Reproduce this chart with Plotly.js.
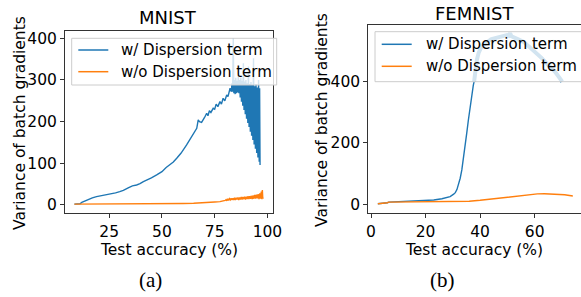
<!DOCTYPE html>
<html>
<head>
<meta charset="utf-8">
<script src="https://cdn.plot.ly/plotly-3.0.1.min.js"></script>
<style>html,body{margin:0;padding:0;background:#fff;}#chart{width:581px;height:297px;}</style>
</head>
<body>
<div id="chart"></div>
<script>
// ---- MNIST: w/ Dispersion term ----
const mnistDispX = [8.5, 10, 11.2, 12, 13.5, 15, 17, 19, 21, 23, 25.4, 28, 30, 31.7, 34, 36, 38, 39.6, 41.2, 43, 45, 47.5, 50, 52, 54, 55.4, 57, 59, 61.7, 63, 64.9, 66.5, 67.2, 67.8, 68.8, 69.5, 70.2, 71.2, 71.8, 72.5, 73.2, 74.3, 75, 75.7, 76.5, 77.5, 78.2, 79, 79.8, 80.7, 81.3, 82.3, 82.9,
  83.2, 83.5, 83.8, 84.1, 84.4, 84.7, 85.0, 85.3, 85.6, 85.9, 86.2, 86.5, 86.8, 87.1, 87.4, 87.7, 88.0, 88.3, 88.6, 88.9, 89.2, 89.5, 89.8, 90.1, 90.4, 90.7, 91.0, 91.3, 91.6, 91.9, 92.2, 92.5, 92.8, 93.1, 93.4, 93.7, 94.0, 94.3, 94.6, 94.9, 95.2, 95.5, 95.8, 96.1, 96.3, 96.5];
const mnistDispY = [2, 2.5, 3, 6, 9.6, 14, 17, 20, 22, 23, 25, 29, 32, 35, 41, 46, 48, 51, 56, 60, 65, 72, 80, 90, 98, 103, 112, 124, 144, 155, 172, 184, 204, 200, 198, 206, 210, 220, 214, 226, 222, 232, 230, 242, 236, 248, 242, 256, 250, 264, 260, 280, 272,
  292, 272, 400, 268, 300, 266, 305, 268, 298, 270, 310, 268, 300, 258, 305, 248, 298, 238, 340, 228, 296, 218, 300, 207, 292, 197, 332, 187, 290, 176, 295, 166, 288, 156, 352, 145, 285, 135, 290, 125, 282, 114, 300, 104, 280, 96];

// ---- MNIST: w/o Dispersion term ----
const mnistNoDispX = [8.5, 12, 20, 30, 40, 50, 60, 65, 68, 70, 72, 75, 77.5, 79,
  80.0, 80.4, 80.8, 81.2, 81.6, 82.0, 82.4, 82.8, 83.2, 83.6, 84.0, 84.4, 84.8, 85.2, 85.6, 86.0, 86.4, 86.8, 87.2, 87.6, 88.0, 88.4, 88.8, 89.2, 89.6, 90.0, 90.4, 90.8, 91.2, 91.6, 92.0, 92.4, 92.8, 93.2, 93.6, 94.0, 94.4, 94.8, 95.2, 95.6, 96.0, 96.4, 96.8, 97.1, 97.4, 97.6, 97.8, 98.0, 98.1];
const mnistNoDispY = [2, 2, 2, 2.2, 2.5, 3, 3.5, 4, 4.5, 5, 6, 7, 8, 9,
  11, 13, 10, 15, 11, 15, 12, 16, 12, 16, 12, 17, 12, 17, 13, 18, 12, 18, 13, 19, 13, 19, 14, 20, 13, 20, 14, 21, 14, 21, 15, 22, 14, 23, 15, 24, 15, 25, 16, 26, 14, 28, 15, 32, 14, 36, 16, 30, 18];

// ---- FEMNIST: w/ Dispersion term (rising part and noisy plateau) ----
const femDispX = [2.5, 5, 6, 6.5, 10, 13, 16, 20, 23, 26, 28, 29, 30.3, 30.9, 31.5, 32.1, 32.7, 33.3, 33.9, 34.5, 35.1, 35.7, 36.3, 37, 37.5, 37.8];
const femDispY = [2, 2.5, 5, 7, 8.5, 9.5, 10.5, 12, 14, 18, 22, 25, 33, 38, 48, 63, 85, 112, 148, 188, 232, 275, 318, 362, 388, 400];
const femDispPlateauX = [37.8, 38.3, 38.8, 39.5, 40.3, 41.3, 42.5, 44, 45.5, 47, 48.5, 49.9, 50.5, 51, 51.5, 52.5, 54, 56, 58, 59.5, 60.9, 62.5, 64, 65.8, 67.5, 69, 70.1];
const femDispPlateauY = [400, 440, 471, 495, 510, 520, 530, 538, 542, 546, 549, 552, 550, 558, 548, 545, 538, 530, 515, 503, 493, 478, 463, 449, 432, 414, 400];

// ---- FEMNIST: w/o Dispersion term ----
const femNoDispX = [2.5, 5, 6, 6.5, 10, 15, 20, 25, 30, 33, 36, 40, 44, 48, 51.3, 55, 58.7, 61, 63.6, 66, 68.5, 71, 74];
const femNoDispY = [2, 2.5, 5, 7, 7.5, 8, 8, 8, 8, 8.5, 10, 13, 17, 21, 25, 29, 33, 34, 34.5, 34, 33, 31, 27];

// ---- labels ----
const seriesNames = ["w/ Dispersion term", "w/o Dispersion term"];
const panelTitles = ["MNIST", "FEMNIST"];
const captions = ["(a)", "(b)"];
const xTitle = "Test accuracy (%)";
const yTitle = "Variance of batch gradients";
const mnistXTicks = [25, 50, 75, 100];
const mnistYTicks = [0, 100, 200, 300, 400];
const femXTicks = [0, 20, 40, 60];
const femYTicks = [0, 200, 400];

const BLUE = "#1f77b4", ORANGE = "#ff7f0e";
const seriesColors = [BLUE, ORANGE];
const FONT = "DejaVu Sans";
const W = 581, H = 297;
const px = v => v / W, py = v => 1 - v / H;

const traces = [
  {x: mnistDispX, y: mnistDispY, type: "scatter", mode: "lines", name: seriesNames[0],
   line: {color: BLUE, width: 1.4}, xaxis: "x", yaxis: "y"},
  {x: mnistNoDispX, y: mnistNoDispY, type: "scatter", mode: "lines", name: seriesNames[1],
   line: {color: ORANGE, width: 1.4}, xaxis: "x", yaxis: "y"},
  {x: femDispPlateauX, y: femDispPlateauY, type: "scatter", mode: "lines", name: seriesNames[0],
   line: {color: BLUE, width: 4}, xaxis: "x2", yaxis: "y2"},
  {x: femDispX, y: femDispY, type: "scatter", mode: "lines", name: seriesNames[0],
   line: {color: BLUE, width: 1.4}, xaxis: "x2", yaxis: "y2"},
  {x: femNoDispX, y: femNoDispY, type: "scatter", mode: "lines", name: seriesNames[1],
   line: {color: ORANGE, width: 1.4}, xaxis: "x2", yaxis: "y2"}
];

const axisCommon = {
  showgrid: false, zeroline: false, showline: true, mirror: true,
  linecolor: "#333", linewidth: 1, ticks: "outside", ticklen: 4, tickcolor: "#333",
  tickfont: {family: FONT, size: 15.5, color: "#000"}, tickmode: "array"
};

const ann = (text, x, y, size, extra) => Object.assign({
  text: text, xref: "paper", yref: "paper", x: px(x), y: py(y),
  xanchor: "center", yanchor: "middle", showarrow: false,
  font: {family: FONT, size: size, color: "#000"}
}, extra || {});

// matplotlib-style legend boxes (frame, line samples, labels)
function legendBox(x0, y0, x1, y1, lineX0, lineX1, textX, rowYs) {
  const shapes = [{type: "rect", xref: "paper", yref: "paper", layer: "above",
    x0: px(x0), x1: px(x1), y0: py(y1), y1: py(y0),
    fillcolor: "rgba(255,255,255,0.8)", line: {color: "#cccccc", width: 1}}];
  const anns = [];
  rowYs.forEach((ry, i) => {
    shapes.push({type: "line", xref: "paper", yref: "paper", layer: "above",
      x0: px(lineX0), x1: px(lineX1), y0: py(ry), y1: py(ry),
      line: {color: seriesColors[i], width: 1.5}});
    anns.push(ann(seriesNames[i], textX, ry, 15, {xanchor: "left"}));
  });
  return {shapes, anns};
}
const leg1 = legendBox(71.7, 38.3, 276.7, 85, 78.3, 108.3, 119, [50, 71.7]);
const leg2 = legendBox(375, 31.7, 600, 81.7, 381.7, 411.7, 424, [44.3, 66.3]);

const layout = {
  width: W, height: H, margin: {l: 0, r: 0, t: 0, b: 0},
  paper_bgcolor: "#fff", plot_bgcolor: "#fff", showlegend: false,
  xaxis: Object.assign({}, axisCommon, {domain: [px(65), px(272.7)], range: [4.05, 102.5], tickvals: mnistXTicks, anchor: "y"}),
  yaxis: Object.assign({}, axisCommon, {domain: [py(213.3), py(31)], range: [-20, 417.5], tickvals: mnistYTicks, anchor: "x"}),
  xaxis2: Object.assign({}, axisCommon, {domain: [px(368.3), 1], range: [-1.0, 77.0], tickvals: femXTicks, anchor: "y2"}),
  yaxis2: Object.assign({}, axisCommon, {domain: [py(213.3), py(25)], range: [-29.4, 585], tickvals: femYTicks, anchor: "x2"}),
  shapes: leg1.shapes.concat(leg2.shapes),
  annotations: [
    ann(panelTitles[0], 168, 18, 18),
    ann(panelTitles[1], 474.7, 13, 18),
    ann(xTitle, 169, 249.5, 15.5),
    ann(xTitle, 474, 249.5, 15.5),
    ann(yTitle, 20, 123, 15.5, {textangle: -90}),
    ann(yTitle, 322, 120, 15.5, {textangle: -90}),
    ann(captions[0], 150, 280, 21, {font: {family: "Liberation Serif", size: 21, color: "#000"}}),
    ann(captions[1], 443, 280, 21, {font: {family: "Liberation Serif", size: 21, color: "#000"}})
  ].concat(leg1.anns, leg2.anns)
};

Plotly.newPlot("chart", traces, layout, {staticPlot: true, displayModeBar: false});
</script>
</body>
</html>
